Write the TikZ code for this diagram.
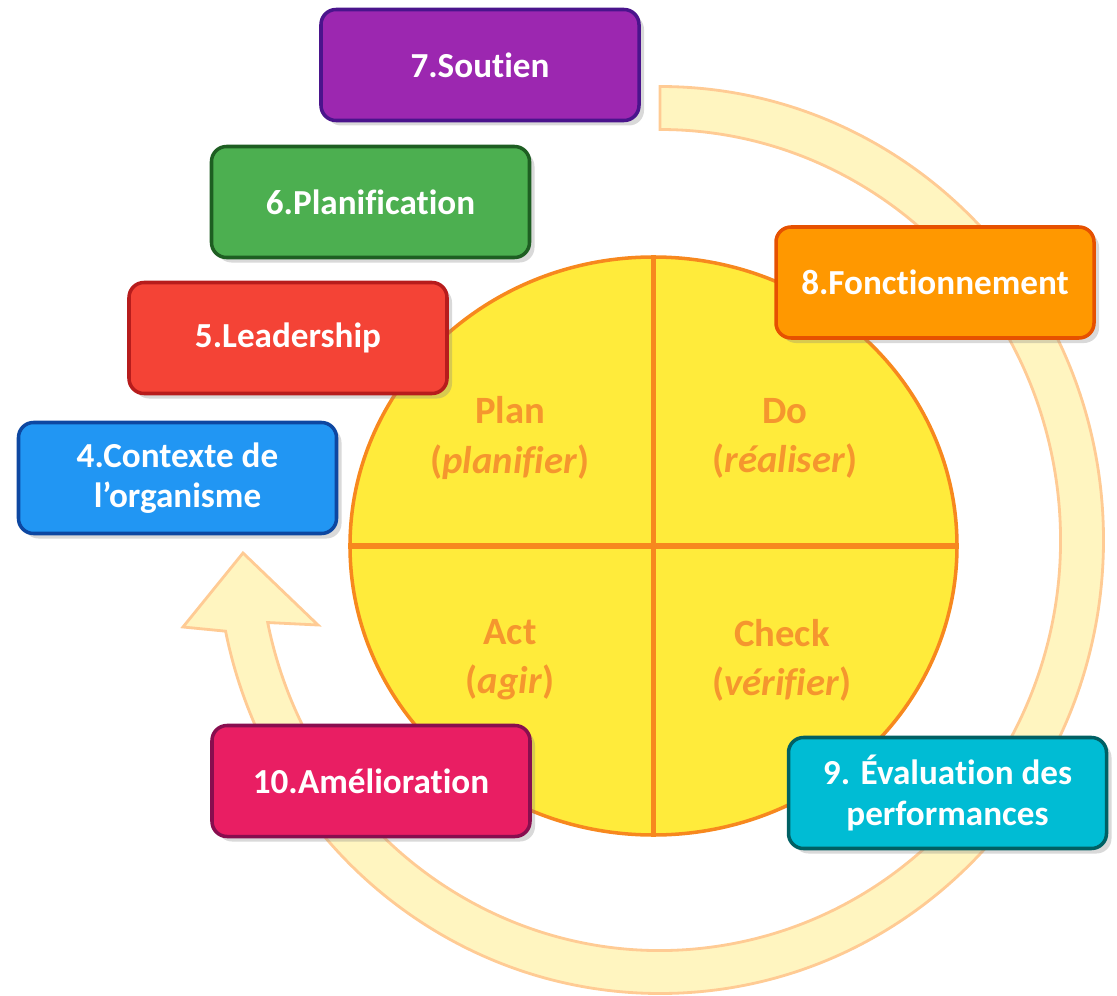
\documentclass[tikz,border=0pt]{standalone}
\usepackage{tikz}
\usepackage{fontspec}
\setmainfont{Carlito}[Ligatures=NoCommon]
\usepackage{xcolor}
\usetikzlibrary{shapes,shadows,calc,positioning}
\definecolor{fleche}{HTML}{FFF5C0}
\definecolor{flechebord}{HTML}{FFCB94}
\definecolor{pdcafond}{HTML}{FFEB3B}
\definecolor{pdcabord}{HTML}{F7881E}
\definecolor{pdcatxt}{HTML}{F5962E}
\definecolor{violet7}{HTML}{9C27B0}
\definecolor{violet7b}{HTML}{4A148C}
\definecolor{vert6}{HTML}{4CAF50}
\definecolor{vert6b}{HTML}{1E5E22}
\definecolor{rouge5}{HTML}{F44336}
\definecolor{rouge5b}{HTML}{B71C1C}
\definecolor{bleu4}{HTML}{2196F3}
\definecolor{bleu4b}{HTML}{0D47A1}
\definecolor{orange8}{HTML}{FF9800}
\definecolor{orange8b}{HTML}{E65100}
\definecolor{cyan9}{HTML}{00BCD4}
\definecolor{cyan9b}{HTML}{006064}
\definecolor{rose10}{HTML}{E91E63}
\definecolor{rose10b}{HTML}{880E4F}

\begin{document}
\begin{tikzpicture}[
      etape/.style args={#1/#2}{rectangle, rounded corners=0.15cm, fill=#1, draw=#2, line width=1pt,
        minimum width=3.18cm, minimum height=1.11cm, text=white, align=center,
        font=\bfseries\fontsize{10}{11.5}\selectfont,
        drop shadow={shadow xshift=0.05cm, shadow yshift=-0.05cm, opacity=0.3}},
      quart/.style={text=pdcatxt, align=center, font=\bfseries\fontsize{11}{14}\selectfont}]
      \useasboundingbox (0,0) rectangle (11.17,9.95);
      \coordinate (ac) at (6.60,4.55);
      \filldraw[fill=fleche, draw=flechebord, line width=0.8pt]
        ([shift={(90:4.435 and 4.535)}]ac) arc[start angle=90, end angle=-168.4, x radius=4.435, y radius=4.535]
        -- (1.83,3.68) -- (2.43,4.42) -- (3.18,3.70)
        -- ([shift={(-168.4:4.005 and 4.105)}]ac) arc[start angle=-168.4, end angle=90, x radius=4.005, y radius=4.105]
        -- cycle;
      \node[ellipse, draw=pdcabord, fill=pdcafond, line width=1pt, minimum width=6.07cm, minimum height=5.78cm, inner sep=0pt] (pdca) at (6.535,4.49) {};
      \draw[pdcabord, line width=1.5pt] (pdca.north) -- (pdca.south) (pdca.west) -- (pdca.east);
      \node[quart] (qp) at (5.10,5.57) {Plan\\(\textit{planifier})};
      \node[quart] (qd) at (7.85,5.57) {Do\\(\textit{réaliser})};
      \node[quart] (qa) at (5.10,3.35) {Act\\(\textit{agir})};
      \node[quart] (qc) at (7.82,3.35) {Check\\(\textit{vérifier})};
      \node[etape=violet7/violet7b] (b7) at (4.80,9.30) {7.Soutien};
      \node[etape=vert6/vert6b] (b6) at (3.705,7.93) {6.Planification};
      \node[etape=rouge5/rouge5b] (b5) at (2.88,6.57) {5.Leadership};
      \node[etape=bleu4/bleu4b] (b4) at (1.775,5.17) {4.Contexte de\\l’organisme};
      \node[etape=orange8/orange8b] (b8) at (9.35,7.125) {8.Fonctionnement};
      \node[etape=cyan9/cyan9b] (b9) at (9.475,2.02) {9. Évaluation des\\performances};
      \node[etape=rose10/rose10b] (b10) at (3.71,2.14) {10.Amélioration};
    \end{tikzpicture}
\end{document}
